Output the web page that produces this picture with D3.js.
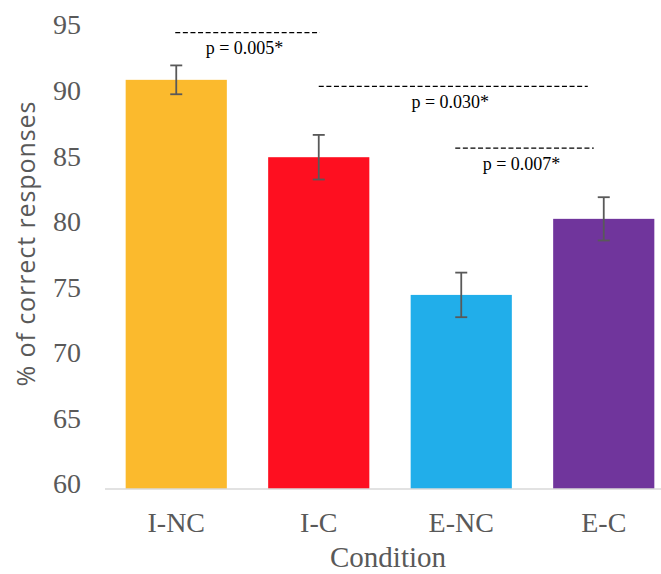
<!DOCTYPE html>
<html>
<head>
<meta charset="utf-8">
<script src="https://cdn.jsdelivr.net/npm/d3@7/dist/d3.min.js"></script>
<style>
  html, body { margin: 0; padding: 0; background: #fff; }
  svg { display: block; }
</style>
</head>
<body>
<svg id="chart" width="661" height="574"></svg>
<script>
// ---- data ----
const categories = ["I-NC", "I-C", "E-NC", "E-C"];
const means = [91.2, 85.3, 74.8, 80.6];
const errors = [1.1, 1.7, 1.7, 1.65];
const barColors = ["#FBBA2D", "#FE0F20", "#21AEEA", "#70359C"];
const yTicks = [60, 65, 70, 75, 80, 85, 90, 95];
const annotLabels = ["p = 0.005*", "p = 0.030*", "p = 0.007*"];
const annotFrom = ["I-NC", "I-C", "E-NC"];
const annotTo = ["I-C", "E-C", "E-C"];
const annotLevels = [94.8, 90.7, 86.0];
const xTitle = "Condition";
const yTitle = "% of correct responses";

// ---- layout ----
const svg = d3.select("#chart");
const serif = "'Liberation Serif', 'Times New Roman', serif";
const textGray = "#595959";

const x = d3.scaleBand().domain(categories).range([105, 675])
  .paddingInner(0.29).paddingOuter(0.145);
const y = d3.scaleLinear().domain([60, 95]).range([489, 30]);

// bars
svg.append("g").selectAll("rect").data(categories).join("rect")
  .attr("x", d => x(d))
  .attr("width", x.bandwidth())
  .attr("y", (d, i) => y(means[i]))
  .attr("height", (d, i) => y(60) - y(means[i]))
  .attr("fill", (d, i) => barColors[i]);

// x axis line
svg.append("line")
  .attr("x1", x.range()[0]).attr("x2", x.range()[1])
  .attr("y1", y(60)).attr("y2", y(60))
  .attr("stroke", "#D9D9D9").attr("stroke-width", 1.5);

// y axis (labels only)
const yAxis = d3.axisLeft(y).tickValues(yTicks).tickSize(0).tickPadding(0);
const gy = svg.append("g").attr("transform", "translate(81,0)").call(yAxis);
gy.select(".domain").remove();
gy.selectAll("text")
  .attr("font-family", serif).attr("font-size", 28)
  .attr("fill", textGray).attr("dy", "0.14em");

// x axis labels
const xAxis = d3.axisBottom(x).tickSize(0).tickPadding(0);
const gx = svg.append("g").attr("transform", "translate(0,532)").call(xAxis);
gx.select(".domain").remove();
gx.selectAll("text")
  .attr("font-family", serif).attr("font-size", 28)
  .attr("fill", textGray).attr("dy", 0).attr("y", 0);

// error bars
const eg = svg.append("g").attr("stroke", "#595959").attr("stroke-width", 1.8);
categories.forEach((c, i) => {
  const cx = x(c) + x.bandwidth() / 2;
  const top = y(means[i] + errors[i]), bot = y(means[i] - errors[i]);
  eg.append("line").attr("x1", cx).attr("x2", cx).attr("y1", top).attr("y2", bot);
  eg.append("line").attr("x1", cx - 6).attr("x2", cx + 6).attr("y1", top).attr("y2", top);
  eg.append("line").attr("x1", cx - 6).attr("x2", cx + 6).attr("y1", bot).attr("y2", bot);
});

// significance annotations
const fromOffset = [-1, 0, -6];
const toOffset = [1, -16, -10];
const ag = svg.append("g");
annotLabels.forEach((lab, i) => {
  const x1 = x(annotFrom[i]) + x.bandwidth() / 2 + fromOffset[i];
  const x2 = x(annotTo[i]) + x.bandwidth() / 2 + toOffset[i];
  const ly = y(annotLevels[i]);
  ag.append("line")
    .attr("x1", x1).attr("x2", x2).attr("y1", ly).attr("y2", ly)
    .attr("stroke", "#000").attr("stroke-width", 1.3)
    .attr("stroke-dasharray", "5,2.6");
  ag.append("text")
    .attr("x", (x1 + x2) / 2 - 3).attr("y", ly + 21.5)
    .attr("text-anchor", "middle")
    .attr("font-family", serif).attr("font-size", 18)
    .attr("fill", "#000").text(lab);
});

// axis titles
svg.append("text")
  .attr("x", (x.range()[0] + x.range()[1]) / 2 - 2).attr("y", 567)
  .attr("text-anchor", "middle")
  .attr("font-family", serif).attr("font-size", 29)
  .attr("fill", textGray).text(xTitle);

svg.append("text")
  .attr("transform", "translate(35,244) rotate(-90)")
  .attr("text-anchor", "middle")
  .attr("font-family", "'Open Sans', sans-serif").attr("font-size", 25)
  .attr("textLength", 285).attr("lengthAdjust", "spacing")
  .attr("fill", textGray).text(yTitle);
</script>
</body>
</html>
